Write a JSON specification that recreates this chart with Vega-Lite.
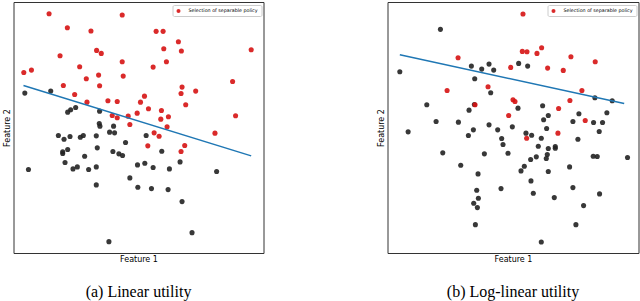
{
  "$schema": "https://vega.github.io/schema/vega-lite/v6.json",
  "padding": {"left": 2.5, "top": 1, "right": 0, "bottom": 0},
  "background": "white",
  "bounds": "flush",
  "config": {
    "view": {"stroke": "#333", "strokeWidth": 1},
    "axis": {"labels": false, "ticks": false, "domain": false, "grid": false, "titleFont": "DejaVu Sans", "titleFontSize": 8, "titleFontWeight": "normal", "titleColor": "#000", "titlePadding": 2},
    "legend": {"orient": "top-right", "offset": 2.5, "padding": 3, "strokeColor": "#ccc", "fillColor": "white", "cornerRadius": 1.5, "labelFont": "DejaVu Sans", "labelFontSize": 4.8, "labelColor": "#000", "symbolSize": 16, "symbolType": "circle", "labelOffset": 7},
    "title": {"font": "Liberation Serif", "fontSize": 16, "fontWeight": "normal", "orient": "bottom", "anchor": "middle", "baseline": "alphabetic", "offset": 21, "color": "#000"},
    "concat": {"spacing": 124}
  },
  "datasets": {
    "a": [
      {"x":150,"y":270,"s":"k"},{"x":72,"y":276,"s":"k"},{"x":225,"y":319,"s":"k"},{"x":210,"y":326,"s":"k"},{"x":201,"y":333,"s":"k"},{"x":297,"y":330,"s":"k"},{"x":296,"y":367,"s":"k"},{"x":298,"y":375,"s":"k"},{"x":339,"y":375,"s":"k"},{"x":173,"y":403,"s":"k"},{"x":208,"y":406,"s":"k"},{"x":190,"y":414,"s":"k"},{"x":239,"y":408,"s":"k"},{"x":248,"y":403,"s":"k"},{"x":287,"y":404,"s":"k"},{"x":327,"y":393,"s":"k"},{"x":342,"y":395,"s":"k"},{"x":437,"y":403,"s":"k"},{"x":375,"y":424,"s":"k"},{"x":290,"y":440,"s":"k"},{"x":201,"y":445,"s":"k"},{"x":186,"y":452,"s":"k"},{"x":186,"y":457,"s":"k"},{"x":337,"y":451,"s":"k"},{"x":355,"y":458,"s":"k"},{"x":366,"y":463,"s":"k"},{"x":252,"y":465,"s":"k"},{"x":484,"y":450,"s":"k"},{"x":193,"y":484,"s":"k"},{"x":230,"y":497,"s":"k"},{"x":217,"y":503,"s":"k"},{"x":264,"y":505,"s":"k"},{"x":287,"y":497,"s":"k"},{"x":411,"y":491,"s":"k"},{"x":433,"y":486,"s":"k"},{"x":458,"y":499,"s":"k"},{"x":507,"y":503,"s":"k"},{"x":539,"y":482,"s":"k"},{"x":83,"y":505,"s":"k"},{"x":649,"y":511,"s":"k"},{"x":388,"y":530,"s":"k"},{"x":287,"y":551,"s":"k"},{"x":412,"y":558,"s":"k"},{"x":453,"y":562,"s":"k"},{"x":503,"y":565,"s":"k"},{"x":545,"y":601,"s":"k"},{"x":575,"y":694,"s":"k"},{"x":325,"y":721,"s":"k"},
      {"x":145,"y":38,"s":"r"},{"x":365,"y":42,"s":"r"},{"x":200,"y":80,"s":"r"},{"x":271,"y":90,"s":"r"},{"x":467,"y":91,"s":"r"},{"x":488,"y":91,"s":"r"},{"x":534,"y":122,"s":"r"},{"x":490,"y":143,"s":"r"},{"x":288,"y":148,"s":"r"},{"x":543,"y":150,"s":"r"},{"x":302,"y":157,"s":"r"},{"x":753,"y":146,"s":"r"},{"x":178,"y":164,"s":"r"},{"x":365,"y":182,"s":"r"},{"x":498,"y":182,"s":"r"},{"x":237,"y":197,"s":"r"},{"x":458,"y":198,"s":"r"},{"x":69,"y":214,"s":"r"},{"x":92,"y":207,"s":"r"},{"x":294,"y":222,"s":"r"},{"x":368,"y":225,"s":"r"},{"x":257,"y":233,"s":"r"},{"x":188,"y":253,"s":"r"},{"x":297,"y":254,"s":"r"},{"x":545,"y":258,"s":"r"},{"x":697,"y":241,"s":"r"},{"x":542,"y":277,"s":"r"},{"x":586,"y":270,"s":"r"},{"x":222,"y":280,"s":"r"},{"x":432,"y":285,"s":"r"},{"x":259,"y":303,"s":"r"},{"x":322,"y":299,"s":"r"},{"x":350,"y":301,"s":"r"},{"x":420,"y":303,"s":"r"},{"x":556,"y":311,"s":"r"},{"x":444,"y":323,"s":"r"},{"x":483,"y":328,"s":"r"},{"x":410,"y":336,"s":"r"},{"x":335,"y":343,"s":"r"},{"x":350,"y":350,"s":"r"},{"x":383,"y":345,"s":"r"},{"x":504,"y":347,"s":"r"},{"x":481,"y":354,"s":"r"},{"x":388,"y":370,"s":"r"},{"x":500,"y":377,"s":"r"},{"x":461,"y":395,"s":"r"},{"x":476,"y":405,"s":"r"},{"x":644,"y":396,"s":"r"},{"x":706,"y":344,"s":"r"},{"x":442,"y":434,"s":"r"},{"x":553,"y":433,"s":"r"},{"x":542,"y":451,"s":"r"}
    ],
    "b": [
      {"x":211,"y":85,"s":"k"},{"x":89,"y":212,"s":"k"},{"x":304,"y":195,"s":"k"},{"x":335,"y":204,"s":"k"},{"x":357,"y":189,"s":"k"},{"x":371,"y":207,"s":"k"},{"x":446,"y":187,"s":"k"},{"x":473,"y":195,"s":"k"},{"x":314,"y":233,"s":"k"},{"x":362,"y":275,"s":"k"},{"x":313,"y":310,"s":"k"},{"x":444,"y":321,"s":"k"},{"x":170,"y":311,"s":"k"},{"x":297,"y":327,"s":"k"},{"x":518,"y":314,"s":"k"},{"x":535,"y":343,"s":"k"},{"x":521,"y":356,"s":"k"},{"x":530,"y":382,"s":"k"},{"x":627,"y":338,"s":"k"},{"x":711,"y":335,"s":"k"},{"x":609,"y":361,"s":"k"},{"x":671,"y":364,"s":"k"},{"x":698,"y":364,"s":"k"},{"x":675,"y":290,"s":"k"},{"x":727,"y":299,"s":"k"},{"x":114,"y":392,"s":"k"},{"x":198,"y":361,"s":"k"},{"x":265,"y":363,"s":"k"},{"x":357,"y":371,"s":"k"},{"x":310,"y":386,"s":"k"},{"x":295,"y":403,"s":"k"},{"x":383,"y":386,"s":"k"},{"x":427,"y":377,"s":"k"},{"x":468,"y":396,"s":"k"},{"x":485,"y":402,"s":"k"},{"x":514,"y":411,"s":"k"},{"x":395,"y":412,"s":"k"},{"x":399,"y":430,"s":"k"},{"x":505,"y":435,"s":"k"},{"x":535,"y":442,"s":"k"},{"x":556,"y":436,"s":"k"},{"x":556,"y":441,"s":"k"},{"x":624,"y":414,"s":"k"},{"x":688,"y":391,"s":"k"},{"x":218,"y":455,"s":"k"},{"x":343,"y":458,"s":"k"},{"x":414,"y":456,"s":"k"},{"x":532,"y":460,"s":"k"},{"x":529,"y":472,"s":"k"},{"x":499,"y":467,"s":"k"},{"x":482,"y":475,"s":"k"},{"x":670,"y":465,"s":"k"},{"x":682,"y":466,"s":"k"},{"x":773,"y":469,"s":"k"},{"x":272,"y":492,"s":"k"},{"x":463,"y":495,"s":"k"},{"x":453,"y":509,"s":"k"},{"x":535,"y":511,"s":"k"},{"x":599,"y":497,"s":"k"},{"x":324,"y":518,"s":"k"},{"x":483,"y":539,"s":"k"},{"x":393,"y":562,"s":"k"},{"x":609,"y":559,"s":"k"},{"x":320,"y":567,"s":"k"},{"x":325,"y":591,"s":"k"},{"x":311,"y":606,"s":"k"},{"x":322,"y":619,"s":"k"},{"x":490,"y":576,"s":"k"},{"x":553,"y":589,"s":"k"},{"x":689,"y":578,"s":"k"},{"x":641,"y":613,"s":"k"},{"x":316,"y":670,"s":"k"},{"x":618,"y":670,"s":"k"},{"x":514,"y":722,"s":"k"},
      {"x":459,"y":39,"s":"r"},{"x":457,"y":151,"s":"r"},{"x":471,"y":152,"s":"r"},{"x":515,"y":140,"s":"r"},{"x":501,"y":157,"s":"r"},{"x":603,"y":167,"s":"r"},{"x":676,"y":182,"s":"r"},{"x":264,"y":170,"s":"r"},{"x":422,"y":199,"s":"r"},{"x":533,"y":201,"s":"r"},{"x":580,"y":208,"s":"r"},{"x":231,"y":268,"s":"r"},{"x":354,"y":257,"s":"r"},{"x":636,"y":268,"s":"r"},{"x":429,"y":296,"s":"r"},{"x":435,"y":301,"s":"r"},{"x":600,"y":298,"s":"r"},{"x":315,"y":311,"s":"r"},{"x":566,"y":322,"s":"r"},{"x":416,"y":343,"s":"r"},{"x":646,"y":358,"s":"r"},{"x":470,"y":411,"s":"r"},{"x":564,"y":396,"s":"r"}
    ],
    "la": [{"x":68,"y":253},{"x":753,"y":464}],
    "lb": [{"x":89,"y":161},{"x":763,"y":307}]
  },
  "hconcat": [
    {
      "width": 250, "height": 251,
      "title": "(a) Linear utility",
      "layer": [
        {
          "data": {"name": "a"},
          "mark": {"type": "circle", "size": 26, "opacity": 0.9},
          "encoding": {
            "x": {"field": "x", "type": "quantitative", "scale": {"domain": [38, 790], "nice": false, "zero": false}, "title": "Feature 1"},
            "y": {"field": "y", "type": "quantitative", "scale": {"domain": [3, 755], "reverse": true, "nice": false, "zero": false}, "title": "Feature 2"},
            "color": {"field": "s", "type": "nominal", "scale": {"domain": ["r", "k"], "range": ["#d61313", "#222222"]}, "legend": {"title": null, "values": ["r"], "labelExpr": "'Selection of separable policy'"}}
          }
        },
        {
          "data": {"name": "la"},
          "mark": {"type": "line", "color": "#1f77b4", "strokeWidth": 1.5},
          "encoding": {"x": {"field": "x", "type": "quantitative"}, "y": {"field": "y", "type": "quantitative"}}
        }
      ]
    },
    {
      "width": 251, "height": 251,
      "title": "(b) Log-linear utility",
      "layer": [
        {
          "data": {"name": "b"},
          "mark": {"type": "circle", "size": 26, "opacity": 0.9},
          "encoding": {
            "x": {"field": "x", "type": "quantitative", "scale": {"domain": [52, 806], "nice": false, "zero": false}, "title": "Feature 1"},
            "y": {"field": "y", "type": "quantitative", "scale": {"domain": [3, 755], "reverse": true, "nice": false, "zero": false}, "title": "Feature 2"},
            "color": {"field": "s", "type": "nominal", "scale": {"domain": ["r", "k"], "range": ["#d61313", "#222222"]}, "legend": {"title": null, "values": ["r"], "labelExpr": "'Selection of separable policy'"}}
          }
        },
        {
          "data": {"name": "lb"},
          "mark": {"type": "line", "color": "#1f77b4", "strokeWidth": 1.5},
          "encoding": {"x": {"field": "x", "type": "quantitative"}, "y": {"field": "y", "type": "quantitative"}}
        }
      ]
    }
  ],
  "resolve": {"scale": {"x": "independent", "y": "independent", "color": "independent"}, "legend": {"color": "independent"}}
}
